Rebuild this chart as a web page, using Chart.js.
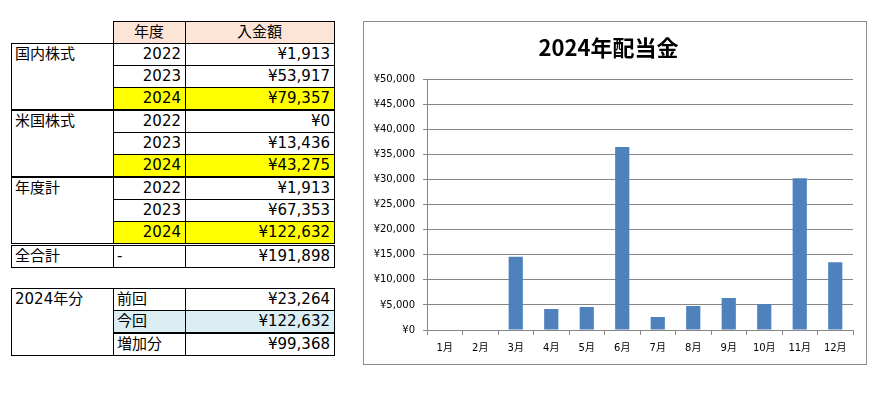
<!DOCTYPE html>
<html lang="ja">
<head>
<meta charset="utf-8">
<script src="https://cdn.jsdelivr.net/npm/chart.js@4"></script>
<style>
  body { margin: 0; background: #fff; font-family: "DejaVu Sans", "Noto Sans CJK JP", sans-serif; }
  table { position: absolute; border-collapse: collapse; table-layout: fixed; font-size: 15px; color: #000; }
  td { border: 1px solid #000; padding: 0 4px 0 3px; height: 21px; line-height: 21px; white-space: nowrap; overflow: hidden; }
  td.lbl { vertical-align: top; text-align: left; }
  td.yr { text-align: right; }
  td.amt { text-align: right; }
  td.hd { background: #fce4d6; text-align: center; }
  td.blank { border: none; }
  .y24 td.yr, .y24 td.amt { background: #ffff00; }
  .endblk td { border-bottom: 2px solid #000; }
  .total td { border-top: 3px double #000; }
  .now td { background: #daeef3; border-bottom: 2px solid #000; }
  #box { position: absolute; left: 363px; top: 21px; width: 502px; height: 342px; border: 1px solid #8c8c8c; }
</style>
</head>
<body>
<table id="t1" style="left:11px; top:21px;">
  <colgroup><col style="width:102px"><col style="width:72px"><col style="width:149px"></colgroup>
  <tr><td class="blank"></td><td class="hd">年度</td><td class="hd">入金額</td></tr>
  <tr><td class="lbl" rowspan="3" style="border-bottom:2px solid #000">国内株式</td><td class="yr">2022</td><td class="amt">¥1,913</td></tr>
  <tr><td class="yr">2023</td><td class="amt">¥53,917</td></tr>
  <tr class="y24 endblk"><td class="yr">2024</td><td class="amt">¥79,357</td></tr>
  <tr><td class="lbl" rowspan="3" style="border-bottom:2px solid #000">米国株式</td><td class="yr">2022</td><td class="amt">¥0</td></tr>
  <tr><td class="yr">2023</td><td class="amt">¥13,436</td></tr>
  <tr class="y24 endblk"><td class="yr">2024</td><td class="amt">¥43,275</td></tr>
  <tr><td class="lbl" rowspan="3">年度計</td><td class="yr">2022</td><td class="amt">¥1,913</td></tr>
  <tr><td class="yr">2023</td><td class="amt">¥67,353</td></tr>
  <tr class="y24"><td class="yr">2024</td><td class="amt">¥122,632</td></tr>
  <tr class="total"><td class="lbl">全合計</td><td style="text-align:left">-</td><td class="amt">¥191,898</td></tr>
</table>

<table id="t2" style="left:11px; top:288px;">
  <colgroup><col style="width:102px"><col style="width:72px"><col style="width:149px"></colgroup>
  <tr><td class="lbl" rowspan="3">2024年分</td><td>前回</td><td class="amt">¥23,264</td></tr>
  <tr class="now"><td>今回</td><td class="amt">¥122,632</td></tr>
  <tr><td>増加分</td><td class="amt">¥99,368</td></tr>
</table>

<div id="box"><canvas id="chart" width="502" height="342"></canvas></div>

<script>
const months = ['1月', '2月', '3月', '4月', '5月', '6月', '7月', '8月', '9月', '10月', '11月', '12月'];
const dividends = [0, 0, 14600, 4200, 4600, 36500, 2600, 4800, 6400, 5200, 30300, 13500];
const yTicks = [0, 5000, 10000, 15000, 20000, 25000, 30000, 35000, 40000, 45000, 50000];

const gridColor = '#868686';
const tickFont = { family: '"DejaVu Sans", "Noto Sans CJK JP"', size: 10 };

const ctx = document.getElementById('chart').getContext('2d');
const chart = new Chart(ctx, {
    type: 'bar',
    data: {
        labels: months,
        datasets: [{
            label: '配当金',
            data: dividends,
            backgroundColor: '#4f81bd',
            borderWidth: 0,
            barPercentage: 0.4,
            categoryPercentage: 1
        }]
    },
    options: {
        responsive: false,
        animation: false,
        layout: { padding: { left: 0, right: 13, top: 0, bottom: 0 } },
        plugins: {
            legend: { display: false },
            tooltip: { enabled: false },
            title: {
                display: true,
                text: '2024年配当金',
                color: '#000',
                font: { family: '"Noto Sans CJK JP"', size: 22, weight: 'bold' },
                padding: { top: 12, bottom: 19 }
            }
        },
        scales: {
            x: {
                grid: { offset: true, drawOnChartArea: false, drawTicks: true, tickLength: 5, color: gridColor },
                border: { display: true, color: gridColor },
                ticks: { color: '#000', font: tickFont, padding: 7, maxRotation: 0, autoSkip: false },
                afterFit: (scale) => { scale.height = 34; }
            },
            y: {
                min: 0,
                max: 50000,
                afterBuildTicks: (scale) => { scale.ticks = yTicks.map(v => ({ value: v })); },
                grid: { color: gridColor, tickLength: 4 },
                border: { display: true, color: gridColor },
                ticks: {
                    color: '#000',
                    font: tickFont,
                    padding: 8,
                    callback: (v) => '¥' + Number(v).toLocaleString('en-US')
                },
                afterFit: (scale) => { scale.width = 63; }
            }
        }
    }
});
</script>
</body>
</html>
